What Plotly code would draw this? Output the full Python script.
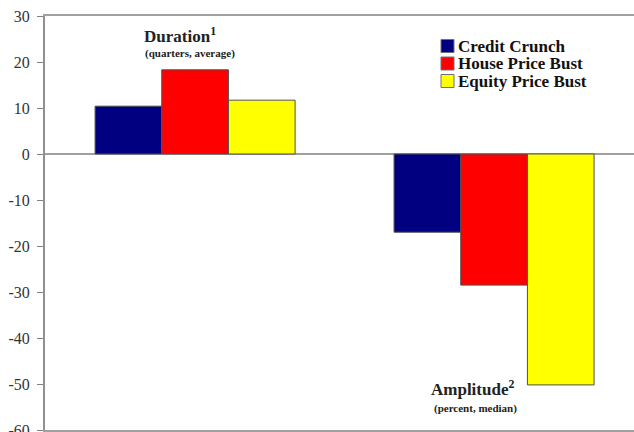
import plotly.graph_objects as go

# Recession characteristics by type of financial disruption
categories = ["Duration", "Amplitude"]
series_names = ["Credit Crunch", "House Price Bust", "Equity Price Bust"]
credit_crunch = [10.4, -17.0]
house_price_bust = [18.3, -28.5]
equity_price_bust = [11.7, -50.2]
colors = ["#000080", "#FF0000", "#FFFF00"]

tick_values = [30, 20, 10, 0, -10, -20, -30, -40, -50, -60]
tick_labels = ["30", "20", "10", "0", "-10", "-20", "-30", "-40", "-50", "-60"]

serif = "Liberation Serif, Times New Roman, serif"

fig = go.Figure()
for name, vals, col in zip(series_names,
                           [credit_crunch, house_price_bust, equity_price_bust],
                           colors):
    fig.add_trace(go.Bar(
        x=categories, y=vals, name=name,
        marker=dict(color=col, line=dict(color="#505050", width=1)),
        showlegend=False,
    ))

W, H = 634, 432
ML, MR, MT, MB = 45, 0, 16, 2
PW, PH = W - ML - MR, H - MT - MB

fig.update_layout(
    width=W, height=H,
    margin=dict(l=ML, r=MR, t=MT, b=MB),
    paper_bgcolor="white", plot_bgcolor="white",
    barmode="group", bargap=0.331, bargroupgap=0,
    xaxis=dict(
        type="category", range=[-0.502, 1.468],
        showticklabels=False, ticks="",
        showline=True, mirror=True, linecolor="#a0a0a0", linewidth=2,
        showgrid=False, zeroline=False, automargin=False,
    ),
    yaxis=dict(
        range=[-60, 30], tickvals=tick_values, ticktext=tick_labels,
        ticks="outside", ticklen=6, tickcolor="#808080", tickwidth=1,
        showline=True, linecolor="#909090", linewidth=2,
        showgrid=False,
        zeroline=True, zerolinecolor="#a0a0a0", zerolinewidth=2,
        tickfont=dict(family=serif, size=16, color="#333333"),
        ticklabelstandoff=4,
        ticklabeloverflow="allow", automargin=False,
    ),
    font=dict(family=serif),
)


def px_x(x):
    return (x - ML) / PW


def px_y(y):
    return 1 - (y - MT) / PH


def label(text, x, y, size, anchor="center"):
    fig.add_annotation(
        xref="paper", yref="paper", x=px_x(x), y=px_y(y),
        xanchor=anchor, yanchor="middle",
        text=text, showarrow=False,
        font=dict(family=serif, size=size, color="#222222"),
    )


label("<b>Duration<sup>1</sup></b>", 180, 35, 17)
label("<b>(quarters, average)</b>", 190, 54, 11)
label("<b>Amplitude<sup>2</sup></b>", 472, 388, 17)
label("<b>(percent, median)</b>", 475, 408, 11)

# Compact key: coloured swatch followed by series name
for i, (name, col) in enumerate(zip(series_names, colors)):
    cy = 46 + i * 17.5
    fig.add_shape(
        type="rect", xref="paper", yref="paper",
        x0=px_x(441), x1=px_x(454), y0=px_y(cy - 6.5), y1=px_y(cy + 6.5),
        fillcolor=col, line=dict(color="#707070", width=1),
    )
    fig.add_annotation(
        xref="paper", yref="paper", x=px_x(456), y=px_y(cy),
        xanchor="left", yanchor="middle", showarrow=False,
        text=f"<b>{name}</b>",
        font=dict(family=serif, size=17, color="#111111"),
    )

fig.write_html("out.html")
